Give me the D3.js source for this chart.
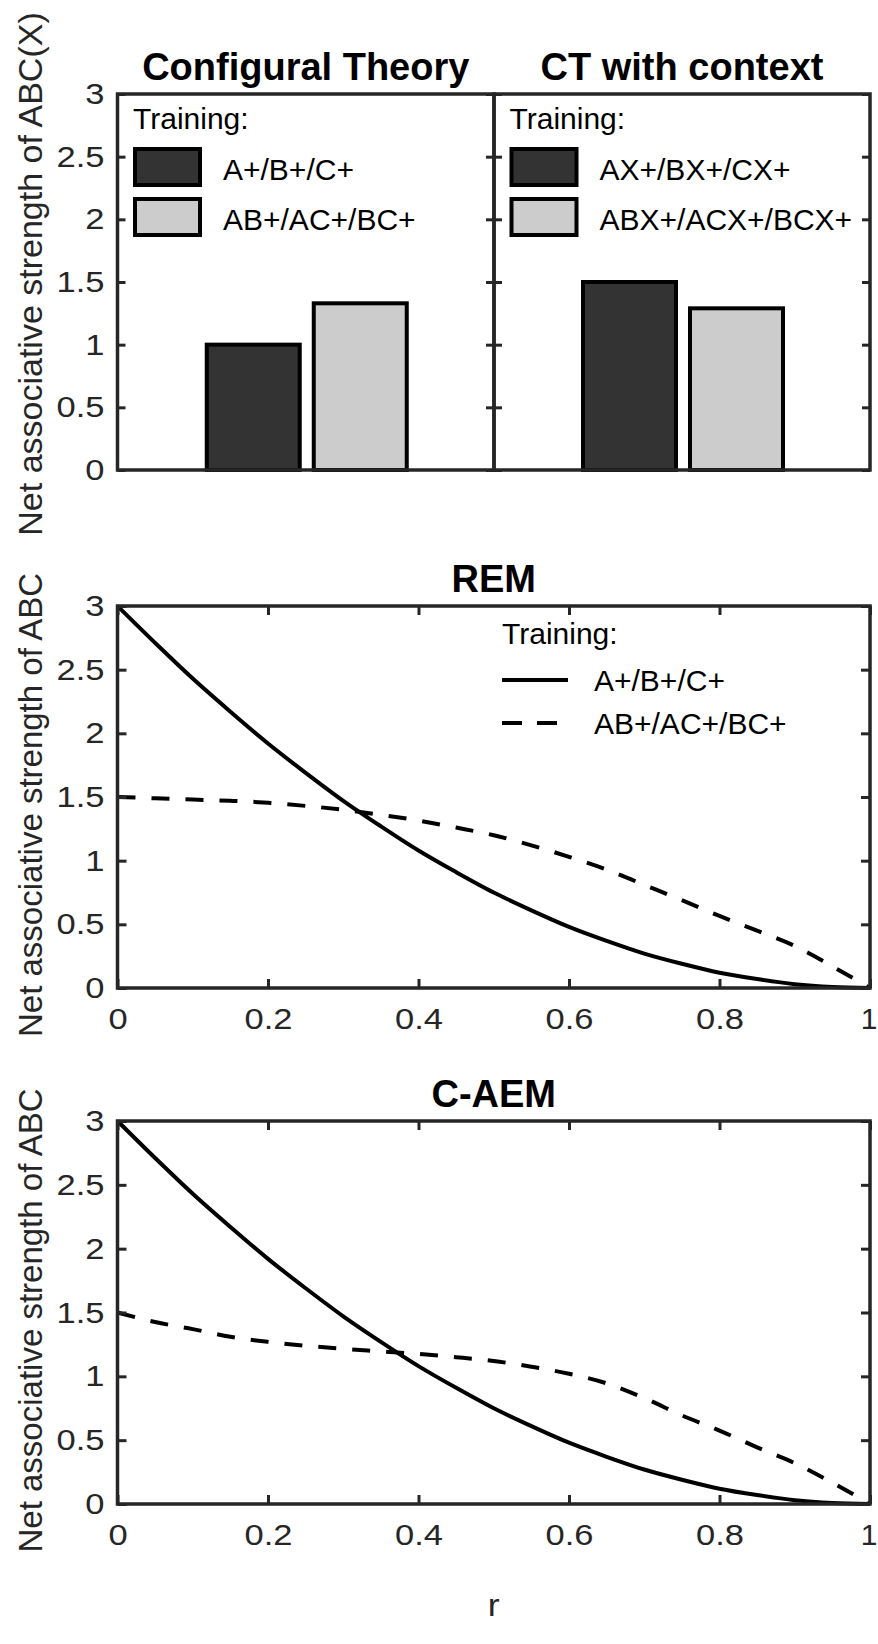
<!DOCTYPE html>
<html>
<head>
<meta charset="utf-8">
<script src="https://cdn.jsdelivr.net/npm/d3@7"></script>
<style>
  body { margin: 0; background: #fff; }
  text { font-family: "Liberation Sans", Arial, sans-serif; }
</style>
</head>
<body>
<svg width="878" height="1644"></svg>
<script>
// ---- data ----
var barTitles = ["Configural Theory", "CT with context"];
var barTraining = [
  ["A+/B+/C+", "AB+/AC+/BC+"],
  ["AX+/BX+/CX+", "ABX+/ACX+/BCX+"]
];
var barValues = [
  [1.0, 1.33],
  [1.5, 1.29]
];
var barColors = ["#333333", "#cccccc"];

var yTicks = [0, 0.5, 1, 1.5, 2, 2.5, 3];
var xTicks = [0, 0.2, 0.4, 0.6, 0.8, 1];

var lineTraining = ["A+/B+/C+", "AB+/AC+/BC+"];
var rValues = [0, 0.05, 0.1, 0.15, 0.2, 0.25, 0.3, 0.35, 0.4, 0.45, 0.5,
               0.55, 0.6, 0.65, 0.7, 0.75, 0.8, 0.85, 0.9, 0.95, 1];
var remElemental = [3.00, 2.71, 2.43, 2.17, 1.92, 1.69, 1.47, 1.27, 1.08, 0.91, 0.75,
                    0.61, 0.48, 0.37, 0.27, 0.19, 0.12, 0.07, 0.03, 0.008, 0];
var remConfigural = [1.50, 1.49, 1.48, 1.47, 1.455, 1.43, 1.40, 1.36, 1.315, 1.26, 1.20,
                     1.12, 1.03, 0.93, 0.81, 0.69, 0.566, 0.45, 0.33, 0.17, 0];
var caemElemental = [3.00, 2.71, 2.43, 2.17, 1.92, 1.69, 1.47, 1.27, 1.08, 0.91, 0.75,
                     0.61, 0.48, 0.37, 0.27, 0.19, 0.12, 0.07, 0.03, 0.008, 0];
var caemConfigural = [1.50, 1.425, 1.37, 1.31, 1.27, 1.24, 1.215, 1.195, 1.175, 1.15, 1.12,
                      1.075, 1.02, 0.945, 0.83, 0.694, 0.575, 0.444, 0.32, 0.167, 0];

// ---- layout ----
var svg = d3.select("svg");
var axisColor = "#262626";
var left = 117.5, mid = 494, right = 870;
var stretch = 1.15;   // digits in the original are drawn a bit wide

function styleAxis(sel) {
  sel.select(".domain").remove();
  sel.selectAll(".tick line").attr("stroke", axisColor).attr("stroke-width", 3);
  sel.selectAll(".tick text")
    .attr("fill", axisColor)
    .style("font-size", "30px")
    .style("font-family", "'Liberation Sans', Arial, sans-serif")
    .each(function() {
      var t = d3.select(this);
      var tx = +t.attr("x") || 0;
      t.attr("x", 0).attr("transform", "translate(" + tx + ",0) scale(" + stretch + ",1)");
    });
}

// ---- bar panels ----
var yBar = d3.scaleLinear().domain([0, 3]).range([470, 94]);
var barEdges = [[left, mid], [mid, right]];

barEdges.forEach(function(edge, i) {
  var g = svg.append("g");
  var cx = (edge[0] + edge[1]) / 2 + 1;
  var x = d3.scaleBand()
    .domain(barTraining[i])
    .range([cx - 100, cx + 100])
    .paddingInner(0.131);

  g.selectAll("rect.bar")
    .data(barValues[i])
    .enter().append("rect")
      .attr("class", "bar")
      .attr("x", function(d, j) { return x(barTraining[i][j]); })
      .attr("y", function(d) { return yBar(d); })
      .attr("width", x.bandwidth())
      .attr("height", function(d) { return yBar(0) - yBar(d); })
      .attr("fill", function(d, j) { return barColors[j]; })
      .attr("stroke", "#000")
      .attr("stroke-width", 4);

  g.append("g")
    .attr("transform", "translate(" + edge[0] + ",0)")
    .call(d3.axisLeft(yBar).tickValues(yTicks).tickSize(-8).tickPadding(13)
      .tickFormat(i === 0 ? function(d) { return String(d); } : function() { return ""; }))
    .call(styleAxis);

  g.append("g")
    .attr("transform", "translate(" + edge[1] + ",0)")
    .call(d3.axisRight(yBar).tickValues(yTicks).tickSize(-8).tickFormat(function() { return ""; }))
    .call(styleAxis);

  g.append("rect")
    .attr("x", edge[0]).attr("y", yBar(3))
    .attr("width", edge[1] - edge[0]).attr("height", yBar(0) - yBar(3))
    .attr("fill", "none").attr("stroke", axisColor).attr("stroke-width", 3.5);

  g.append("text")
    .attr("x", (edge[0] + edge[1]) / 2)
    .attr("y", 80)
    .attr("text-anchor", "middle")
    .style("font-size", "38px")
    .style("font-weight", "bold")
    .text(barTitles[i]);

  // legend
  var lx = edge[0] + 15.5;
  g.append("text").attr("x", lx).attr("y", 129)
    .style("font-size", "30px").text("Training:");
  var leg = g.selectAll("g.leg")
    .data(barTraining[i])
    .enter().append("g")
      .attr("class", "leg")
      .attr("transform", function(d, j) { return "translate(" + lx + "," + (149 + j * 50) + ")"; });
  leg.append("rect")
    .attr("x", 2).attr("y", 0).attr("width", 65).attr("height", 36)
    .attr("fill", function(d, j) { return barColors[j]; })
    .attr("stroke", "#000").attr("stroke-width", 4);
  leg.append("text")
    .attr("x", 90).attr("y", 31)
    .style("font-size", "30px")
    .text(function(d) { return d; });
});

svg.append("text")
  .attr("transform", "translate(42,274) rotate(-90)")
  .attr("text-anchor", "middle")
  .style("font-size", "34px")
  .attr("fill", axisColor)
  .text("Net associative strength of ABC(X)");

// ---- line panels ----
function linePanel(top, bottom, title, elemental, configural, showLegend, showXLabel) {
  var g = svg.append("g");
  var x = d3.scaleLinear().domain([0, 1]).range([left, right]);
  var y = d3.scaleLinear().domain([0, 3]).range([bottom, top]);

  var line = d3.line()
    .x(function(d, i) { return x(rValues[i]); })
    .y(function(d) { return y(d); })
    .curve(d3.curveMonotoneX);

  g.append("path").datum(elemental)
    .attr("d", line).attr("fill", "none")
    .attr("stroke", "#000").attr("stroke-width", 4);
  g.append("path").datum(configural)
    .attr("d", line).attr("fill", "none")
    .attr("stroke", "#000").attr("stroke-width", 4)
    .attr("stroke-dasharray", "18,16");

  var xAxis = g.append("g").attr("transform", "translate(0," + bottom + ")")
    .call(d3.axisBottom(x).tickValues(xTicks).tickSize(-9).tickPadding(19.5)
      .tickFormat(function(d) { return String(d); }))
    .call(styleAxis);
  // last label sits on the right edge of the page: keep it inside
  xAxis.selectAll(".tick text")
    .filter(function(d) { return d === 1; })
    .attr("text-anchor", "end")
    .attr("transform", "translate(7,0)");

  g.append("g").attr("transform", "translate(0," + top + ")")
    .call(d3.axisTop(x).tickValues(xTicks).tickSize(-9).tickFormat(function() { return ""; }))
    .call(styleAxis);
  g.append("g").attr("transform", "translate(" + left + ",0)")
    .call(d3.axisLeft(y).tickValues(yTicks).tickSize(-9).tickPadding(13)
      .tickFormat(function(d) { return String(d); }))
    .call(styleAxis);
  g.append("g").attr("transform", "translate(" + right + ",0)")
    .call(d3.axisRight(y).tickValues(yTicks).tickSize(-9).tickFormat(function() { return ""; }))
    .call(styleAxis);

  g.append("rect")
    .attr("x", left).attr("y", top)
    .attr("width", right - left).attr("height", bottom - top)
    .attr("fill", "none").attr("stroke", axisColor).attr("stroke-width", 3.5);

  g.append("text")
    .attr("x", (left + right) / 2).attr("y", top - 14)
    .attr("text-anchor", "middle")
    .style("font-size", "38px").style("font-weight", "bold")
    .text(title);

  g.append("text")
    .attr("transform", "translate(42," + ((top + bottom) / 2 + 8) + ") rotate(-90)")
    .attr("text-anchor", "middle")
    .style("font-size", "33px")
    .attr("fill", axisColor)
    .text("Net associative strength of ABC");

  if (showLegend) {
    var lx = 502;
    g.append("text").attr("x", lx).attr("y", top + 38)
      .style("font-size", "30px").text("Training:");
    var leg = g.selectAll("g.leg")
      .data(lineTraining)
      .enter().append("g")
        .attr("class", "leg")
        .attr("transform", function(d, j) { return "translate(" + lx + "," + (top + 85 + j * 43) + ")"; });
    leg.append("line")
      .attr("x1", 0).attr("x2", 66).attr("y1", -11).attr("y2", -11)
      .attr("stroke", "#000").attr("stroke-width", 4)
      .attr("stroke-dasharray", function(d, j) { return j === 1 ? "20,15" : null; });
    leg.append("text")
      .attr("x", 92).attr("y", 0)
      .style("font-size", "30px")
      .text(function(d) { return d; });
  }

  if (showXLabel) {
    g.append("text")
      .attr("x", (left + right) / 2).attr("y", bottom + 112)
      .attr("text-anchor", "middle")
      .attr("transform", "translate(" + ((left + right) / 2) * (1 - stretch) + ",0) scale(" + stretch + ",1)")
      .style("font-size", "31px")
      .attr("fill", axisColor)
      .text("r");
  }
}

linePanel(606, 988, "REM", remElemental, remConfigural, true, false);
linePanel(1121, 1504, "C-AEM", caemElemental, caemConfigural, false, true);
</script>
</body>
</html>
